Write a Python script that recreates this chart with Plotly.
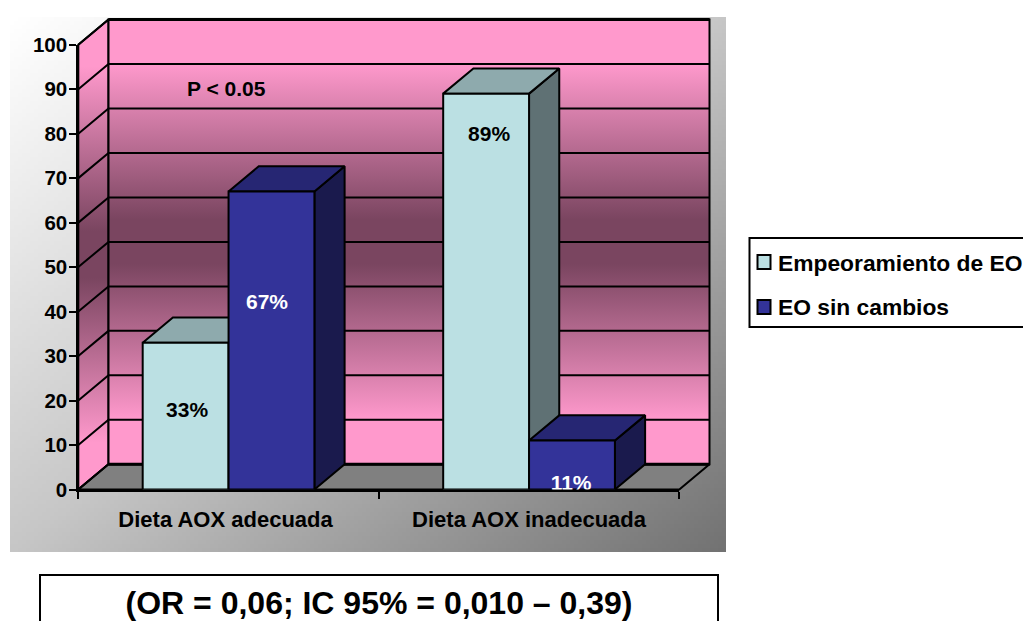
import numpy as np
import plotly.graph_objects as go

# Chart data
categories = ["Dieta AOX adecuada", "Dieta AOX inadecuada"]
series_names = ["Empeoramiento de EO", "EO sin cambios"]
empeoramiento = [33, 89]
sin_cambios = [67, 11]
value_ticks = list(range(0, 101, 10))
p_note = "P < 0.05"
or_note = "(OR = 0,06; IC 95% = 0,010 – 0,39)"

# Where the percentage labels sit inside each column, in axis units
label_x = {"Empeoramiento de EO": [0.362, 1.367], "EO sin cambios": [0.628, 1.640]}
label_y = {"Empeoramiento de EO": [17.4, 79.6], "EO sin cambios": [41.7, 1.0]}
category_label_x = [0.49, 1.5]

# Page and plot geometry, in page pixels
W, H = 1023, 621
X0_PX, X2_PX = 78.3, 679.3      # front plane, category 0 to category 2
Y0_PX, Y100_PX = 489.5, 44.7    # front plane, value 0 to value 100
PX_PER_CAT = (X2_PX - X0_PX) / 2
PX_PER_VAL = (Y0_PX - Y100_PX) / 100

# Oblique depth of the 3D box, in axis units
DEPTH_X = 30.2 / PX_PER_CAT
DEPTH_Y = 25.2 / PX_PER_VAL

GAP = 1.5 / 3.5                 # share of a category left empty
BAR_W = (1 - GAP) / 2

PINK, WINE = "#FF99CC", "#7A4560"
COLORS = {
    "Empeoramiento de EO": dict(front="#BBE0E3", top="#8EAAAD", side="#5F7174"),
    "EO sin cambios": dict(front="#333399", top="#262673", side="#1A1A4D"),
}
FONT = "Liberation Sans"


def cat_of(px):
    return (px - X0_PX) / PX_PER_CAT


def val_of(py):
    return (Y0_PX - py) / PX_PER_VAL


def polygon(xs, ys, fill=None, width=2, gradient=None):
    kw = dict(fillgradient=gradient) if gradient else dict(fillcolor=fill)
    return go.Scatter(x=xs, y=ys, mode="lines", fill="toself",
                      line=dict(color="black", width=width),
                      hoverinfo="skip", showlegend=False, **kw)


def segment(xs, ys, width=2):
    return go.Scatter(x=xs, y=ys, mode="lines", line=dict(color="black", width=width),
                      hoverinfo="skip", showlegend=False)


fig = go.Figure()

# Grey diagonal backdrop of the chart area
bx = np.linspace(cat_of(10), cat_of(726), 180)
by = np.linspace(val_of(552), val_of(17), 135)
u = np.linspace(0, 1, bx.size - 1)
v = np.linspace(1, 0, by.size - 1)
fig.add_trace(go.Heatmap(
    x=bx, y=by, z=(u[None, :] + v[:, None]) / 2,
    colorscale=[[0, "#FFFFFF"], [0.5, "#C6C6C6"], [1, "#727272"]],
    zmin=0, zmax=1, showscale=False, hoverinfo="skip",
))

# Back wall, side wall and floor of the 3D box
wall_stops = [[0, PINK], [0.1, PINK], [0.45, WINE], [0.55, WINE], [0.9, PINK], [1, PINK]]
wall_fill = dict(type="vertical", colorscale=wall_stops)
fig.add_trace(polygon([0, DEPTH_X, DEPTH_X, 0, 0],
                      [0, DEPTH_Y, 100 + DEPTH_Y, 100, 0], gradient=wall_fill))
fig.add_trace(polygon([DEPTH_X, 2 + DEPTH_X, 2 + DEPTH_X, DEPTH_X, DEPTH_X],
                      [DEPTH_Y, DEPTH_Y, 100 + DEPTH_Y, 100 + DEPTH_Y, DEPTH_Y],
                      gradient=wall_fill))
fig.add_trace(polygon([0, 2, 2 + DEPTH_X, DEPTH_X, 0],
                      [0, 0, DEPTH_Y, DEPTH_Y, 0], fill="#808080"))

# Gridlines run across the back wall and down the side wall
for t in value_ticks:
    fig.add_trace(segment([0, DEPTH_X, 2 + DEPTH_X], [t, t + DEPTH_Y, t + DEPTH_Y]))
fig.add_trace(segment([DEPTH_X, 2 + DEPTH_X], [DEPTH_Y, DEPTH_Y], width=3))
fig.add_trace(segment([DEPTH_X, 2 + DEPTH_X], [100 + DEPTH_Y, 100 + DEPTH_Y], width=3))

# Top and side faces of the columns; the fronts are real bars in the inset subplot
all_series = [empeoramiento, sin_cambios]
for s, (name, values) in enumerate(zip(series_names, all_series)):
    for c, val in enumerate(values):
        left = c + GAP / 2 + s * BAR_W
        right = left + BAR_W
        fig.add_trace(polygon([right, right + DEPTH_X, right + DEPTH_X, right, right],
                              [0, DEPTH_Y, val + DEPTH_Y, val, 0],
                              fill=COLORS[name]["side"]))
        fig.add_trace(polygon([left, right, right + DEPTH_X, left + DEPTH_X, left],
                              [val, val, val + DEPTH_Y, val + DEPTH_Y, val],
                              fill=COLORS[name]["top"]))

# The odds-ratio note sits low on the page, so it is a text trace on the full-page axes
fig.add_trace(go.Scatter(
    x=[cat_of(379)], y=[val_of(606)], text=[or_note], mode="text",
    textposition="middle center", cliponaxis=False,
    textfont=dict(family=FONT, size=32, weight="bold", color="black"),
    showlegend=False, hoverinfo="skip",
))

# Front faces and labels live on the real value and category axes
centers = [0.5, 1.5]
for s, (name, values) in enumerate(zip(series_names, all_series)):
    fig.add_trace(go.Bar(
        x=centers, y=values, name=name, xaxis="x2", yaxis="y2",
        marker=dict(color=COLORS[name]["front"], line=dict(color="black", width=2)),
        showlegend=False, hoverinfo="skip",
    ))
for s, (name, values) in enumerate(zip(series_names, all_series)):
    fig.add_trace(go.Scatter(
        x=label_x[name], y=label_y[name],
        text=[f"{v}%" for v in values], mode="text", xaxis="x2", yaxis="y2",
        textposition="middle center", cliponaxis=True,
        textfont=dict(family=FONT, size=21, weight="bold",
                      color="black" if s == 0 else "white"),
        showlegend=False, hoverinfo="skip",
    ))


def paper_x(px):
    return px / W


def paper_y(py):
    return 1 - py / H


def paper_rect(x0, y0, x1, y1, fill, width=2, layer="above"):
    return dict(type="rect", xref="paper", yref="paper", layer=layer,
                x0=paper_x(x0), x1=paper_x(x1), y0=paper_y(y0), y1=paper_y(y1),
                fillcolor=fill, line=dict(color="black", width=width))


# Legend frame with its swatches, and the odds-ratio box
shapes = [
    paper_rect(749.5, 238, 1030, 327, "white"),
    paper_rect(757.5, 255, 770.5, 269, COLORS[series_names[0]]["front"]),
    paper_rect(757.5, 300, 770.5, 314, COLORS[series_names[1]]["front"]),
    paper_rect(40, 575, 718, 640, "white", layer="below"),
]


def paper_text(px, py, text, size, anchor="left"):
    return dict(xref="paper", yref="paper", x=paper_x(px), y=paper_y(py), text=text,
                showarrow=False, xanchor=anchor, yanchor="middle",
                font=dict(family=FONT, size=size, weight="bold", color="black"))


annotations = [
    paper_text(776, 263, series_names[0], 22.8),
    paper_text(776, 307, series_names[1], 22.8),
    paper_text(226, 89, p_note, 21, "center"),
]

fig.update_layout(
    width=W, height=H, margin=dict(l=0, r=0, t=0, b=0),
    paper_bgcolor="white", plot_bgcolor="rgba(0,0,0,0)",
    barmode="group", bargap=GAP, bargroupgap=0, showlegend=False,
    shapes=shapes, annotations=annotations,
    # Full-page axes carrying the box, sharing units with the chart axes
    xaxis=dict(domain=[0, 1], range=[cat_of(0), cat_of(W)], visible=False, automargin=False),
    yaxis=dict(domain=[0, 1], range=[val_of(H), val_of(0)], visible=False, automargin=False),
    xaxis2=dict(
        domain=[paper_x(X0_PX), paper_x(X2_PX)], range=[0, 2], anchor="y2", automargin=False,
        tickmode="array", tickvals=category_label_x, ticktext=categories, ticks="",
        tickfont=dict(family=FONT, size=22, weight="bold", color="black"),
        ticklabelstandoff=9,
        minor=dict(tickmode="array", tickvals=[0, 1, 2], ticks="outside",
                   ticklen=7, tickwidth=2, tickcolor="black"),
        showline=True, linecolor="black", linewidth=2, showgrid=False, zeroline=False,
    ),
    yaxis2=dict(
        domain=[paper_y(Y0_PX), paper_y(Y100_PX)], range=[0, 100], anchor="x2", automargin=False,
        tickmode="array", tickvals=value_ticks, ticks="outside", ticklen=7,
        tickwidth=2, tickcolor="black", ticklabelstandoff=-2,
        tickfont=dict(family=FONT, size=20.5, weight="bold", color="black"),
        showline=True, linecolor="black", linewidth=2, showgrid=False, zeroline=False,
    ),
)

fig.write_html("out.html")
